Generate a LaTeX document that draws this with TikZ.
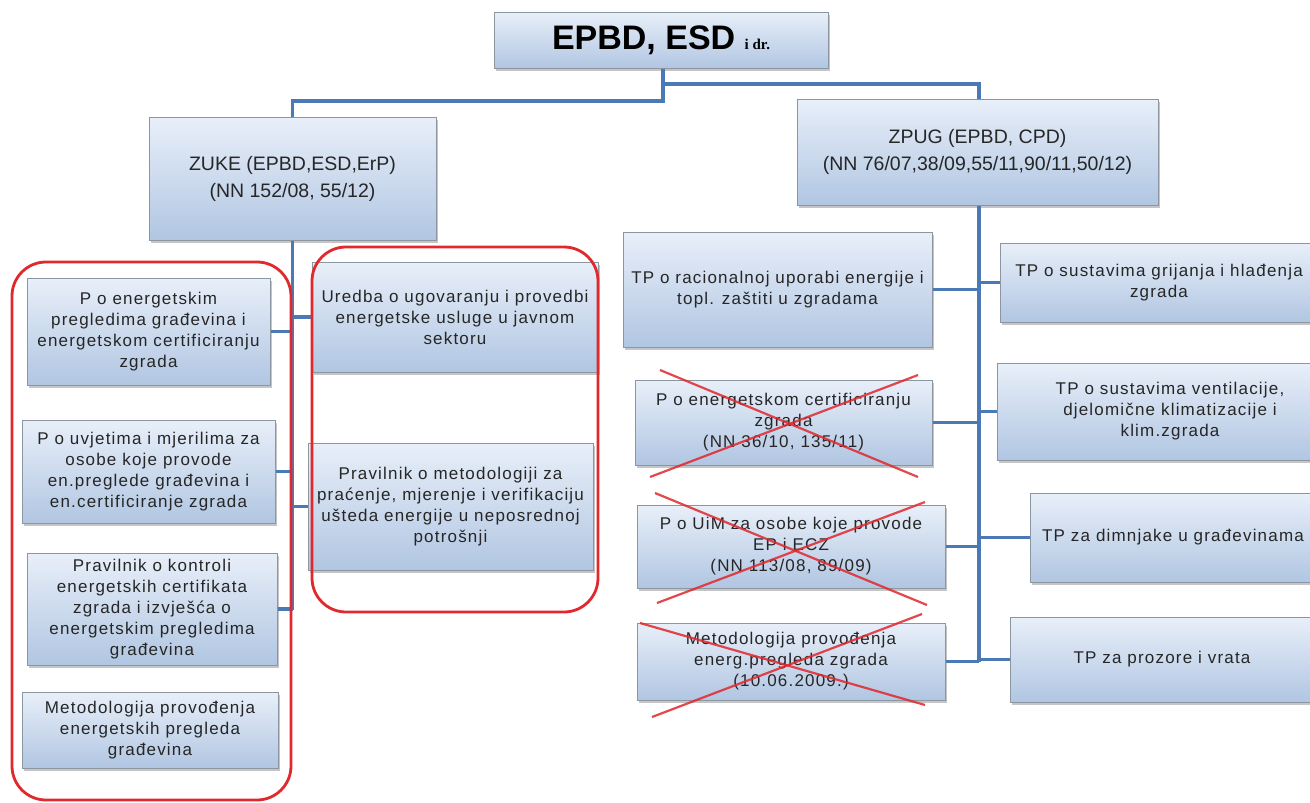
\documentclass[tikz,border=0pt]{standalone}
\usepackage{fontspec}
\setmainfont{Liberation Sans}
\newfontfamily\serifb{Liberation Serif}
\newfontfamily\bodyfam[LetterSpace=7]{Liberation Sans}
\usetikzlibrary{shadows}
\definecolor{boxtop}{HTML}{E8EFF9}
\definecolor{boxbot}{HTML}{B1C6E2}
\definecolor{boxline}{HTML}{8C96A0}
\definecolor{connc}{HTML}{4A7AB6}
\definecolor{redc}{HTML}{E1282D}
\newcommand{\bodyfont}{\bodyfam\fontsize{17}{21}\selectfont}
\newcommand{\headfont}{\normalfont\fontsize{19.5}{27}\selectfont}
\newcommand{\titlefont}{\normalfont\fontsize{34}{38}\selectfont\bfseries}
\tikzset{
  box/.style={draw=boxline, line width=1pt, top color=boxtop, bottom color=boxbot,
    drop shadow={shadow xshift=2pt, shadow yshift=-2.5pt, opacity=0.45},
    align=center, inner sep=2pt, font=\bodyfont, text=black!85},
  conn/.style={draw=connc, line width=3.5pt},
  redbox/.style={draw=redc, line width=2.8pt, rounded corners=34pt},
  xline/.style={draw=redc, line width=2.2pt, opacity=0.85},
}
\begin{document}
\begin{tikzpicture}[x=1pt,y=-1pt]
\clip (0,0) rectangle (1310,803);
\fill[white] (0,0) rectangle (1310,803);

\coordinate (j1) at (663,101);
\coordinate (j2) at (663,84);
\coordinate (zt) at (292.5,610);
\coordinate (pt) at (979,662);

% boxes
\node[box, minimum width=334pt, minimum height=56pt, font=\titlefont, text=black] (top) at (661,40)
  {EPBD, ESD {\serifb\fontsize{15}{16}\selectfont i dr.}};
\node[box, minimum width=287pt, minimum height=123pt, font=\headfont] (zuke) at (292.5,178.5)
  {ZUKE (EPBD,ESD,ErP)\\(NN 152/08, 55/12)};
\node[box, minimum width=361pt, minimum height=106pt, font=\headfont] (zpug) at (977.5,152)
  {ZPUG (EPBD, CPD)\\(NN 76/07,38/09,55/11,90/11,50/12)};

\node[box, minimum width=243pt, minimum height=107pt] (b1) at (148.5,331.5)
  {P o energetskim\\pregledima građevina i\\energetskom certificiranju\\zgrada};
\node[box, minimum width=253pt, minimum height=103pt] (b2) at (148.5,471.5)
  {P o  uvjetima i mjerilima za\\osobe koje provode\\en.preglede građevina i\\en.certificiranje zgrada};
\node[box, minimum width=250pt, minimum height=112pt] (b3) at (152,609)
  {Pravilnik o kontroli\\energetskih certifikata\\zgrada i izvješća o\\energetskim pregledima\\građevina};
\node[box, minimum width=256pt, minimum height=76pt] (b4) at (150,730)
  {Metodologija  provođenja\\energetskih pregleda\\građevina};

\node[box, minimum width=286pt, minimum height=110pt] (m1) at (455,317)
  {Uredba o ugovaranju i provedbi\\energetske usluge u javnom\\sektoru};
\node[box, minimum width=285pt, minimum height=127pt] (m2) at (450.5,506.5)
  {Pravilnik o metodologiji  za\\praćenje, mjerenje i verifikaciju\\ušteda energije u neposrednoj\\potrošnji};

\node[box, minimum width=309pt, minimum height=115pt] (r1) at (777.5,289.5)
  {TP o racionalnoj uporabi energije i\\topl. zaštiti u zgradama};
\node[box, minimum width=297pt, minimum height=85pt] (r2) at (783.5,422.5)
  {P o energetskom certificiranju\\zgrada\\(NN 36/10, 135/11)};
\node[box, minimum width=308pt, minimum height=83pt] (r3) at (791,546.5)
  {P o UiM za osobe koje provode\\EP i ECZ\\(NN 113/08, 89/09)};
\node[box, minimum width=308pt, minimum height=77pt] (r4) at (791,661.5)
  {Metodologija  provođenja\\energ.pregleda zgrada\\(10.06.2009.)};

\node[box, minimum width=318pt, minimum height=79pt] (f1) at (1159,282.5)
  {TP o  sustavima grijanja i hlađenja\\zgrada};
\node[box, minimum width=346pt, minimum height=97pt] (f2) at (1170,411.5)
  {TP o sustavima ventilacije,\\djelomične klimatizacije i\\klim.zgrada};
\node[box, minimum width=286pt, minimum height=89pt] (f3) at (1173,537.5)
  {TP za dimnjake u građevinama};
\node[box, minimum width=304pt, minimum height=85pt] (f4) at (1162,659.5)
  {TP za prozore i vrata};

% tree connectors
\draw[conn] (top.south -| j1) -- (j1) -| (zuke.north);
\draw[conn] (j2) -| (zpug.north -| pt);
\draw[conn] (zuke.south) -- (zt);
\draw[conn] (b1.east) -- (b1.east -| zt);
\draw[conn] (b2.east) -- (b2.east -| zt);
\draw[conn] (b3.east) -- (b3.east -| zt);
\draw[conn] (m1.west -| zt) -- (m1.west);
\draw[conn] (m2.west -| zt) -- (m2.west);
\draw[conn] (zpug.south -| pt) -- (pt);
\draw[conn] (r1.east) -- (r1.east -| pt);
\draw[conn] (r2.east) -- (r2.east -| pt);
\draw[conn] (r3.east) -- (r3.east -| pt);
\draw[conn] (r4.east) -- (r4.east -| pt);
\draw[conn] (f1.west -| pt) -- (f1.west);
\draw[conn] (f2.west -| pt) -- (f2.west);
\draw[conn] (f3.west -| pt) -- (f3.west);
\draw[conn] (f4.west -| pt) -- (f4.west);

% red outlines
\draw[redbox] (12,262) rectangle (291,800);
\draw[redbox] (312,247) rectangle (598,612);

% crosses
\draw[xline] (660,370) -- (918,477);
\draw[xline] (918,375) -- (650,477);
\draw[xline] (655,493) -- (927,605);
\draw[xline] (925,502) -- (657,603);
\draw[xline] (640,623) -- (925,705);
\draw[xline] (922,614) -- (652,717);
\end{tikzpicture}
\end{document}
